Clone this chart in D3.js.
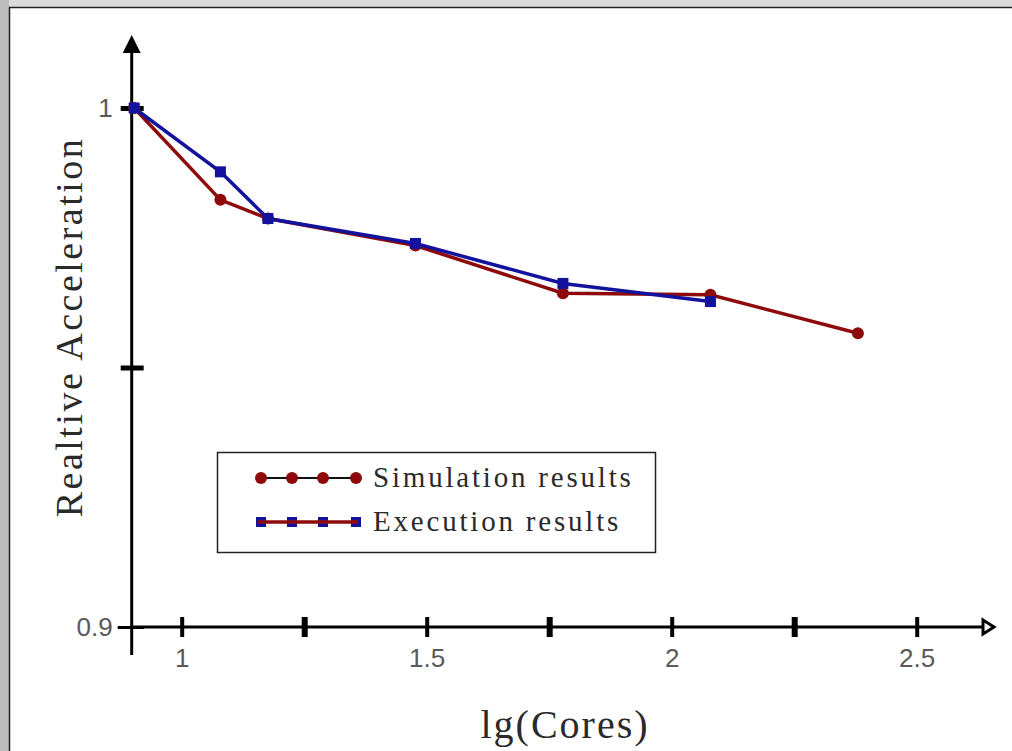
<!DOCTYPE html>
<html>
<head>
<meta charset="utf-8">
<script src="https://cdn.jsdelivr.net/npm/d3@7/dist/d3.min.js"></script>
<style>
  body { margin: 0; background: #d0d0d0; }
  svg { display: block; }
  .tick-label { font-family: "Liberation Sans", Arial, sans-serif; font-size: 26px; fill: #5a5a5a; }
  .serif { font-family: "Liberation Serif", "Times New Roman", serif; fill: #2a2a2a; }
</style>
</head>
<body>
<svg id="chart" width="1012" height="751"></svg>
<script>
// lg(cores) on the x axis, relative acceleration on the y axis
var simX = [0.903, 1.079, 1.176, 1.477, 1.778, 2.079, 2.380];
var simY = [1.0, 0.9823, 0.9787, 0.9735, 0.9643, 0.9640, 0.9566];
var exeX = [0.903, 1.079, 1.176, 1.477, 1.778, 2.079];
var exeY = [1.0, 0.9877, 0.9787, 0.9739, 0.9662, 0.9627];

var xTicks = [1, 1.25, 1.5, 1.75, 2, 2.25, 2.5];
var xTickLabels = ['1', '', '1.5', '', '2', '', '2.5'];
var yTicks = [0.9, 0.95, 1];
var yTickLabels = ['0.9', '', '1'];

var seriesNames = ['Simulation results', 'Execution results'];
var redCol = '#8e0a0a';
var blueCol = '#12129c';

var svg = d3.select('#chart');

// frame around the white panel
svg.append('rect').attr('x', 0).attr('y', 0).attr('width', 1012).attr('height', 751).attr('fill', '#dadada');
svg.append('rect').attr('x', 0).attr('y', 0).attr('width', 9).attr('height', 751).attr('fill', '#bdbdbd');
svg.append('rect').attr('x', 9).attr('y', 7).attr('width', 1003).attr('height', 744).attr('fill', '#fff');
svg.append('path').attr('d', 'M9.5,751 V7.5 H1012').attr('fill', 'none').attr('stroke', '#222').attr('stroke-width', 1.5);

var x = d3.scaleLinear().domain([1, 2.5]).range([181.7, 916.7]);
var y = d3.scaleLinear().domain([0.9, 1]).range([627, 108]);

var axisX = x(0.9) - 1;   // y axis sits just left of lg(8)
var axisY = y(0.9);

// y axis line + arrow
svg.append('line')
  .attr('x1', axisX).attr('x2', axisX)
  .attr('y1', 50).attr('y2', axisY + 28)
  .attr('stroke', '#000').attr('stroke-width', 3);
svg.append('path')
  .attr('d', `M${axisX - 9},53 L${axisX},35 L${axisX + 9},53 Z`)
  .attr('fill', '#000');

// x axis line + open arrow
svg.append('line')
  .attr('x1', axisX).attr('x2', 990)
  .attr('y1', axisY).attr('y2', axisY)
  .attr('stroke', '#000').attr('stroke-width', 3);
svg.append('path')
  .attr('d', `M983,${axisY - 7} L994,${axisY} L983,${axisY + 7} Z`)
  .attr('fill', '#fff').attr('stroke', '#000').attr('stroke-width', 3);

// x ticks through d3 axis
var gx = svg.append('g')
  .attr('transform', `translate(0,${axisY})`)
  .call(d3.axisBottom(x)
    .tickValues(xTicks)
    .tickSize(0)
    .tickPadding(22)
    .tickFormat(function(d, i) { return xTickLabels[i]; }));
gx.select('.domain').remove();
gx.selectAll('.tick line')
  .attr('y1', -10).attr('y2', 10)
  .attr('stroke', '#000')
  .attr('stroke-width', function(d, i) { return i % 2 ? 6 : 4; });
gx.selectAll('.tick text')
  .attr('class', 'tick-label')
  .attr('fill', null)
  .attr('dy', '0.71em')
  .style('font-size', '26px');

// y ticks through d3 axis
var gy = svg.append('g')
  .attr('transform', `translate(${axisX},0)`)
  .call(d3.axisLeft(y)
    .tickValues(yTicks)
    .tickSize(0)
    .tickPadding(19)
    .tickFormat(function(d, i) { return yTickLabels[i]; }));
gy.select('.domain').remove();
gy.selectAll('.tick line')
  .attr('x1', function(d, i) { return i === 0 ? -14 : -11; })
  .attr('x2', 12)
  .attr('stroke', '#000')
  .attr('stroke-width', function(d, i) { return i === 0 ? 3 : 5; });
gy.selectAll('.tick text')
  .attr('class', 'tick-label')
  .attr('fill', null)
  .style('font-size', '26px');

// series lines
var line = d3.line()
  .x(function(d) { return x(d[0]); })
  .y(function(d) { return y(d[1]); });

var simPts = simX.map(function(v, i) { return [v, simY[i]]; });
var exePts = exeX.map(function(v, i) { return [v, exeY[i]]; });

svg.append('path').datum(simPts)
  .attr('d', line).attr('fill', 'none')
  .attr('stroke', redCol).attr('stroke-width', 3.5);
svg.append('path').datum(exePts)
  .attr('d', line).attr('fill', 'none')
  .attr('stroke', blueCol).attr('stroke-width', 3.5);

svg.selectAll('.sim-dot').data(simPts).enter()
  .append('circle').attr('class', 'sim-dot')
  .attr('cx', function(d) { return x(d[0]); })
  .attr('cy', function(d) { return y(d[1]); })
  .attr('r', 6).attr('fill', redCol);

svg.selectAll('.exe-dot').data(exePts).enter()
  .append('rect').attr('class', 'exe-dot')
  .attr('x', function(d) { return x(d[0]) - 5.5; })
  .attr('y', function(d) { return y(d[1]) - 5.5; })
  .attr('width', 11).attr('height', 11).attr('fill', blueCol);

// axis titles
svg.append('text')
  .attr('class', 'serif')
  .attr('transform', 'translate(82,327) rotate(-90)')
  .style('text-anchor', 'middle')
  .style('font-size', '38px')
  .style('letter-spacing', '2.5px')
  .text('Realtive Acceleration');

svg.append('text')
  .attr('class', 'serif')
  .attr('x', 565).attr('y', 738)
  .style('text-anchor', 'middle')
  .style('font-size', '40px')
  .style('letter-spacing', '2px')
  .text('lg(Cores)');

// legend
var lg = svg.append('g').attr('class', 'legend');
lg.append('rect')
  .attr('x', 217.5).attr('y', 452.5).attr('width', 438).attr('height', 100)
  .attr('fill', '#fff').attr('stroke', '#222').attr('stroke-width', 1.5);

var legendMarks = [261, 292, 323, 356];
var legendRows = [478, 522];

seriesNames.forEach(function(name, i) {
  var ly = legendRows[i];
  if (i === 0) {
    lg.append('line')
      .attr('x1', 256).attr('x2', 360).attr('y1', ly).attr('y2', ly)
      .attr('stroke', '#111').attr('stroke-width', 2);
  }
  legendMarks.forEach(function(mx) {
    if (i === 0) {
      lg.append('circle').attr('cx', mx).attr('cy', ly).attr('r', 6).attr('fill', redCol);
    } else {
      lg.append('rect').attr('x', mx - 5).attr('y', ly - 5)
        .attr('width', 10).attr('height', 10).attr('fill', blueCol);
    }
  });
  if (i === 1) {
    lg.append('line')
      .attr('x1', 258).attr('x2', 358).attr('y1', ly).attr('y2', ly)
      .attr('stroke', redCol).attr('stroke-width', 3.5);
  }
  lg.append('text')
    .attr('class', 'serif')
    .attr('x', 373).attr('y', ly + 9)
    .style('font-size', '29px')
    .style('letter-spacing', '2.8px')
    .text(name);
});
</script>
</body>
</html>
